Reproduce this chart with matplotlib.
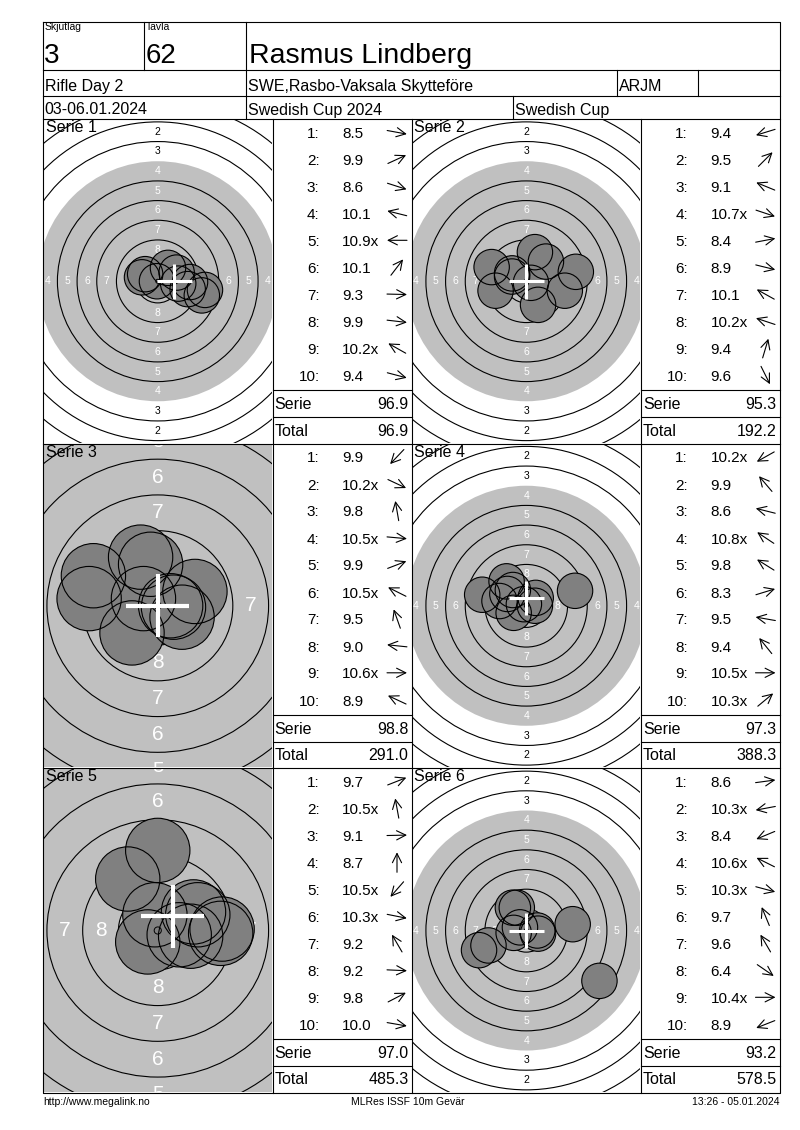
import numpy as np
import matplotlib
matplotlib.use('Agg')
import matplotlib.pyplot as plt
from matplotlib.patches import Circle

plt.rcParams['font.family'] = ['Liberation Sans', 'DejaVu Sans']

# header
relay = '3'
target_no = '62'
shooter = 'Rasmus Lindberg'
event = 'Rifle Day 2'
club = 'SWE,Rasbo-Vaksala Skytteföre'
klass = 'ARJM'
dates = '03-06.01.2024'
match = 'Swedish Cup 2024'
cup = 'Swedish Cup'
footer_l = 'http://www.megalink.no'
footer_c = 'MLRes ISSF 10m Gevär'
footer_r = '13:26 - 05.01.2024'

# shot scores per series, and inner-ten flags
s1_val = [8.5, 9.9, 8.6, 10.1, 10.9, 10.1, 9.3, 9.9, 10.2, 9.4]
s1_inner = [0, 0, 0, 0, 1, 0, 0, 0, 1, 0]
s2_val = [9.4, 9.5, 9.1, 10.7, 8.4, 8.9, 10.1, 10.2, 9.4, 9.6]
s2_inner = [0, 0, 0, 1, 0, 0, 0, 1, 0, 0]
s3_val = [9.9, 10.2, 9.8, 10.5, 9.9, 10.5, 9.5, 9.0, 10.6, 8.9]
s3_inner = [0, 1, 0, 1, 0, 1, 0, 0, 1, 0]
s4_val = [10.2, 9.9, 8.6, 10.8, 9.8, 8.3, 9.5, 9.4, 10.5, 10.3]
s4_inner = [1, 0, 0, 1, 0, 0, 0, 0, 1, 1]
s5_val = [9.7, 10.5, 9.1, 8.7, 10.5, 10.3, 9.2, 9.2, 9.8, 10.0]
s5_inner = [0, 1, 0, 0, 1, 1, 0, 0, 0, 0]
s6_val = [8.6, 10.3, 8.4, 10.6, 10.3, 9.7, 9.6, 6.4, 10.4, 8.9]
s6_inner = [0, 1, 0, 1, 1, 0, 0, 0, 1, 0]

# shot positions on the target, mm (x right, y up)
s1_x = [6.0, 2.4, 5.6, -2.0, -0.1, 1.3, 4.1, 2.6, -1.6, 3.8]
s1_y = [-1.1, 1.1, -1.8, 0.5, 0.0, 1.7, -0.1, -0.3, 0.9, -1.0]
s2_x = [-3.9, 2.5, -4.4, 0.6, 6.3, 4.9, -1.8, -1.8, 1.1, 1.5]
s2_y = [-1.2, 2.5, 1.8, -0.2, 1.2, -1.2, 1.0, 0.6, 3.7, -3.0]
s3_x = [-1.8, 1.7, -0.5, 1.1, 2.6, -1.0, -1.2, -4.8, 0.9, -4.5]
s3_y = [-1.9, -0.8, 2.9, -0.1, 1.0, 0.5, 3.4, 0.5, 0.0, 2.1]
s4_x = [-1.6, -1.7, -5.6, -0.3, -2.4, 6.2, -3.4, -2.5, 1.1, 1.2]
s4_y = [-0.9, 2.0, 1.4, 0.2, 1.5, 1.9, 0.6, 3.1, 0.0, 1.0]
s5_x = [2.8, -0.2, 4.5, 0.0, -0.7, 1.5, -2.1, 4.4, 2.5, 2.3]
s5_y = [1.1, 1.1, 0.1, 5.6, -0.8, -0.3, 3.6, -0.2, 1.3, -0.4]
s6_x = [5.9, -1.6, -6.0, -0.8, 1.5, -1.2, -1.7, 9.3, 1.4, -4.8]
s6_y = [0.8, -0.3, -2.5, 0.4, -0.4, 2.9, 2.9, -6.4, 0.0, -1.9]

# mean point of impact (white cross), mm
mpi_x = [2.1, 0.0, 0.0, 0.0, 1.05, 0.0]
mpi_y = [0.0, 0.0, 0.0, 1.0, 1.0, 0.0]

serie_sum = [96.9, 95.3, 98.8, 97.3, 97.0, 93.2]
running_total = [96.9, 192.2, 291.0, 388.3, 485.3, 578.5]

vals = [s1_val, s2_val, s3_val, s4_val, s5_val, s6_val]
inner = [s1_inner, s2_inner, s3_inner, s4_inner, s5_inner, s6_inner]
xs = [s1_x, s2_x, s3_x, s4_x, s5_x, s6_x]
ys = [s1_y, s2_y, s3_y, s4_y, s5_y, s6_y]

# display zoom of each target panel
zoomed = [False, False, True, False, True, False]

W, H = 800, 1130
fig = plt.figure(figsize=(W / 100, H / 100), dpi=100)


def px_axes(x0, y0, x1, y1, **kw):
    return fig.add_axes([x0 / W, 1 - y1 / H, (x1 - x0) / W, (y1 - y0) / H], **kw)


col_x = [(43, 272.5, 411.5), (411.5, 641, 779.5)]
row_y = [(119, 443.5), (443.5, 768), (768, 1093)]
LINE = 0.8

ov = px_axes(0, 0, W, H, zorder=10)
ov.set_xlim(0, W)
ov.set_ylim(H, 0)
ov.axis('off')

for k in range(6):
    r, c = divmod(k, 2)
    tx0, tx1, sx1 = col_x[c]
    ty0, ty1 = row_y[r]
    scale = 14.3 if zoomed[k] else 7.87  # px per mm
    ax = px_axes(tx0 + 1, ty0 + 1, tx1 - 1, ty1 - 1, zorder=1)
    hw = (tx1 - tx0 - 2) / 2 / scale
    hh = (ty1 - ty0 - 2) / 2 / scale
    ax.set_xlim(-hw, hw)
    ax.set_ylim(-hh, hh)
    ax.axis('off')

    # black aiming area shown grey
    ax.add_patch(Circle((0, 0), 15.25, fc='#c0c0c0', ec='none', zorder=1))
    for n in range(1, 10):
        if n == 4:
            continue
        ax.add_patch(Circle((0, 0), 0.25 + (10 - n) * 2.5, fill=False,
                            ec='black', lw=LINE, zorder=2))
    fs = 15 if zoomed[k] else 7.5
    for n in range(2, 9):
        rad = (10 - n) * 2.5 - 1.0
        col = 'black' if n <= 3 else 'white'
        for px, py in [(0, rad), (0, -rad), (-rad, 0), (rad, 0)]:
            if abs(px) > hw + 0.3 or abs(py) > hh + 0.3:
                continue
            ax.text(px, py, str(n), color=col, fontsize=fs, ha='center',
                    va='center', zorder=3, clip_on=True)

    ax.add_patch(Circle((0, 0), 0.25, fc='white', ec='none', zorder=3.5))
    for x, y in zip(xs[k], ys[k]):
        ax.add_patch(Circle((x, y), 2.25, fc='#808080', ec='none', zorder=4))
    for x, y in zip(xs[k], ys[k]):
        ax.add_patch(Circle((x, y), 2.25, fill=False, ec='black', lw=LINE, zorder=5))
    ax.add_patch(Circle((0, 0), 0.25, fill=False, ec='black', lw=0.7, zorder=6))

    L = 2.2
    clw = 3.0 if zoomed[k] else 2.2
    ax.plot([mpi_x[k] - L, mpi_x[k] + L], [mpi_y[k], mpi_y[k]], color='white',
            lw=clw, solid_capstyle='butt', zorder=7)
    ax.plot([mpi_x[k], mpi_x[k]], [mpi_y[k] - L, mpi_y[k] + L], color='white',
            lw=clw, solid_capstyle='butt', zorder=7)
    ax.text(0.008, 0.999, 'Serie %d' % (k + 1), transform=ax.transAxes,
            ha='left', va='top', fontsize=11.5, zorder=8)

    # shot list
    S = tx1
    for i in range(10):
        base = ty0 + 19 + 27 * i
        mid = ty0 + 13.3 + 27 * i
        ov.text(S + 47, base, '%d:' % (i + 1), ha='right', va='baseline', fontsize=11)
        txt = '%.1f' % vals[k][i] + ('x' if inner[k][i] else '')
        ov.text(S + 69.5, base, txt, ha='left', va='baseline', fontsize=11)
        a = np.arctan2(ys[k][i], xs[k][i])
        cx, cy = S + 124.5, mid
        ddx, ddy = 10 * np.cos(a), -10 * np.sin(a)
        ov.annotate('', xy=(cx + ddx, cy + ddy), xytext=(cx - ddx, cy - ddy),
                    arrowprops=dict(arrowstyle='->,head_length=0.6,head_width=0.3',
                                    lw=0.8, color='black', shrinkA=0, shrinkB=0,
                                    mutation_scale=11))
    ov.plot([S, sx1], [ty0 + 271, ty0 + 271], color='black', lw=LINE)
    ov.plot([S, sx1], [ty0 + 298, ty0 + 298], color='black', lw=LINE)
    ov.text(S + 2, ty0 + 290, 'Serie', ha='left', va='baseline', fontsize=11.5)
    ov.text(sx1 - 3, ty0 + 290, '%.1f' % serie_sum[k], ha='right', va='baseline', fontsize=11.5)
    ov.text(S + 2, ty0 + 316.5, 'Total', ha='left', va='baseline', fontsize=11.5)
    ov.text(sx1 - 3, ty0 + 316.5, '%.1f' % running_total[k], ha='right', va='baseline', fontsize=11.5)

# frame and grid
top, bot, left, right = 21.5, 1093, 43, 779.5
ov.plot([left, right, right, left, left], [top, top, bot, bot, top], color='black', lw=LINE)
for yy in [70, 96, 119, 443.5, 768]:
    ov.plot([left, right], [yy, yy], color='black', lw=LINE)
ov.plot([144, 144], [top, 70], color='black', lw=LINE)
ov.plot([246, 246], [top, 119], color='black', lw=LINE)
ov.plot([617, 617], [70, 96], color='black', lw=LINE)
ov.plot([698, 698], [70, 96], color='black', lw=LINE)
ov.plot([513, 513], [96, 119], color='black', lw=LINE)
for xx in [272.5, 411.5, 641]:
    ov.plot([xx, xx], [119, bot], color='black', lw=LINE)

# header texts
ov.text(45, 22.5, 'Skjutlag', ha='left', va='top', fontsize=7.5)
ov.text(146, 22.5, 'Tavla', ha='left', va='top', fontsize=7.5)
ov.text(44, 63, relay, ha='left', va='baseline', fontsize=20)
ov.text(146, 63, target_no, ha='left', va='baseline', fontsize=20)
ov.text(249, 63, shooter, ha='left', va='baseline', fontsize=20.5)
ov.text(45, 91, event, ha='left', va='baseline', fontsize=11.5)
ov.text(248.5, 91, club, ha='left', va='baseline', fontsize=11.5)
ov.text(619, 91, klass, ha='left', va='baseline', fontsize=11.5)
ov.text(44, 114.5, dates, ha='left', va='baseline', fontsize=11.5)
ov.text(248.5, 114.5, match, ha='left', va='baseline', fontsize=11.5)
ov.text(515, 114.5, cup, ha='left', va='baseline', fontsize=11.5)

# footer
ov.text(43, 1102, footer_l, ha='left', va='center', fontsize=7.5)
ov.text(408, 1102, footer_c, ha='center', va='center', fontsize=7.5)
ov.text(779, 1102, footer_r, ha='right', va='center', fontsize=7.5)

fig.savefig('out.png', dpi=100)
